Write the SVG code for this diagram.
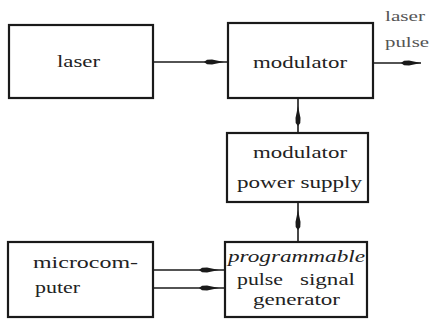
<svg xmlns="http://www.w3.org/2000/svg" width="431" height="322" viewBox="0 0 431 322">
<style>
.box{fill:#fff;stroke:#1a1a1a;stroke-width:2.2}
.c{fill:none;stroke:#1a1a1a;stroke-width:1.6}
</style>
<defs>
<marker id="ah" markerUnits="userSpaceOnUse" viewBox="0 0 20 7" refX="20" refY="3.5" markerWidth="20" markerHeight="7" orient="auto">
<path d="M0,3.5 L3,1.2 L8,1 L20,3.5 L8,6 L3,5.8 Z" fill="#1a1a1a"/>
</marker>
</defs>
<rect width="431" height="322" fill="#fff"/>
<g font-family="Liberation Serif, DejaVu Serif, serif" font-size="16" fill="#222">
<g id="laser">
<rect class="box" x="9" y="25" width="144" height="73"/>
<text x="57" y="67" textLength="43" lengthAdjust="spacingAndGlyphs">laser</text>
</g>
<g id="modulator">
<rect class="box" x="228" y="23" width="145" height="75"/>
<text x="253" y="68" textLength="94" lengthAdjust="spacingAndGlyphs">modulator</text>
</g>
<g id="power-supply">
<rect class="box" x="227" y="133" width="141" height="69"/>
<text x="253" y="158" textLength="94" lengthAdjust="spacingAndGlyphs">modulator</text>
<text x="237" y="188" textLength="125" lengthAdjust="spacingAndGlyphs">power supply</text>
</g>
<g id="pulse-generator">
<rect class="box" x="225" y="242" width="142" height="75"/>
<text x="228" y="262" font-style="italic" textLength="137" lengthAdjust="spacingAndGlyphs">programmable</text>
<text x="237" y="285" textLength="46" lengthAdjust="spacingAndGlyphs">pulse</text>
<text x="300" y="285" textLength="55" lengthAdjust="spacingAndGlyphs">signal</text>
<text x="253" y="305" textLength="87" lengthAdjust="spacingAndGlyphs">generator</text>
</g>
<g id="microcomputer">
<rect class="box" x="8" y="242" width="145" height="75"/>
<text x="33" y="268" textLength="105" lengthAdjust="spacingAndGlyphs">microcom-</text>
<text x="35" y="293" textLength="45" lengthAdjust="spacingAndGlyphs">puter</text>
</g>
<g id="output-label" font-size="14" fill="#555">
<text x="385" y="21" textLength="40" lengthAdjust="spacingAndGlyphs">laser</text>
<text x="385" y="47" textLength="44" lengthAdjust="spacingAndGlyphs">pulse</text>
</g>
</g>
<g id="connectors">
<path class="c" d="M153,62 L224,62 L228,62" marker-mid="url(#ah)"/>
<path class="c" d="M373,63 L421,63" marker-end="url(#ah)"/>
<path class="c" d="M298,133 L298,106 L298,98" marker-mid="url(#ah)"/>
<path class="c" d="M298,242 L298,210 L298,202" marker-mid="url(#ah)"/>
<path class="c" d="M153,270 L219,270 L225,270" marker-mid="url(#ah)"/>
<path class="c" d="M153,288 L219,288 L225,288" marker-mid="url(#ah)"/>
</g>
</svg>
